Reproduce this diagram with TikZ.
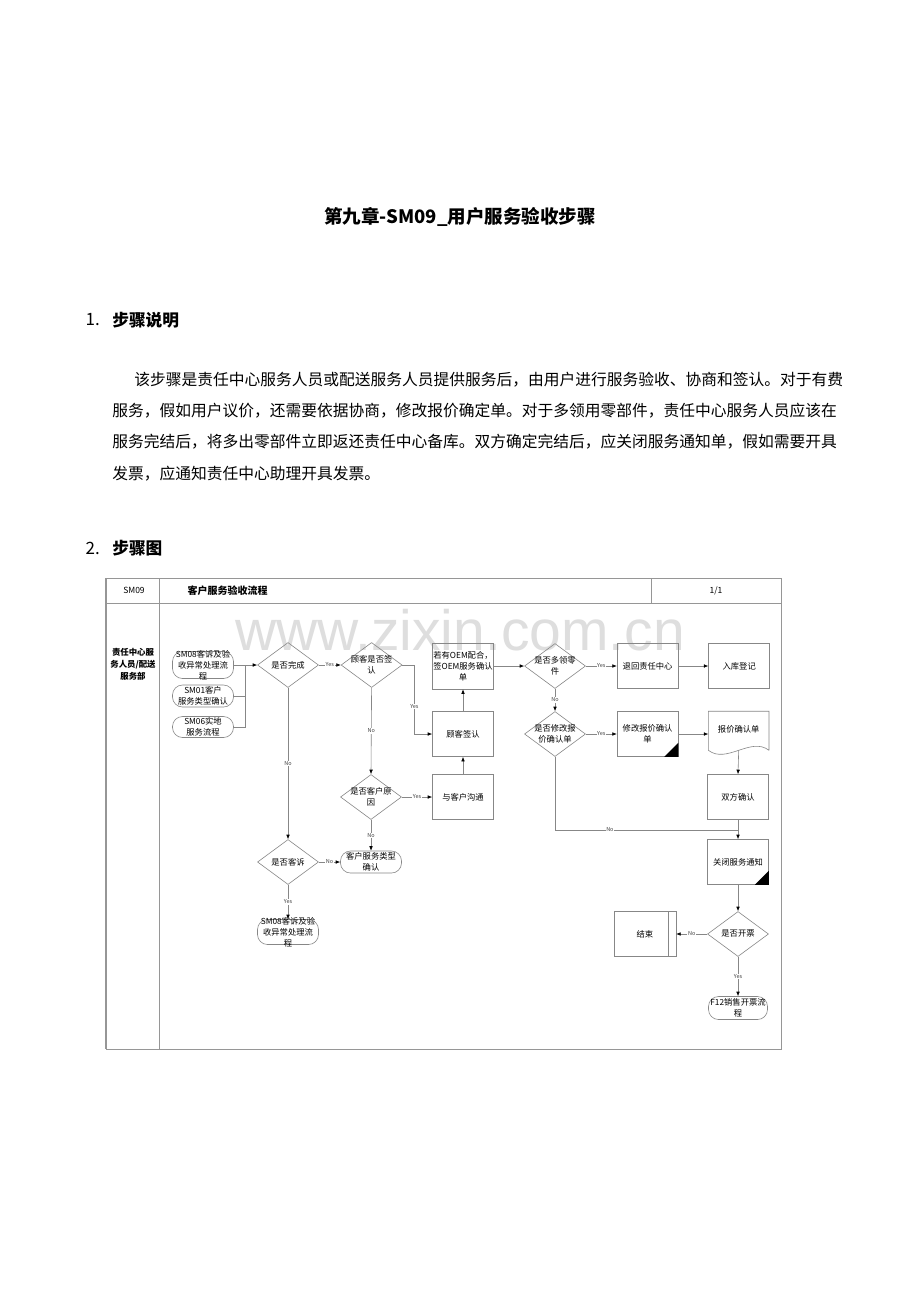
\documentclass[tikz,border=0pt]{standalone}
\usepackage{fontspec}
\setmainfont{Noto Sans CJK SC}
\newfontfamily\wmfont{Liberation Sans}
\usepackage{tikz}
\usetikzlibrary{positioning}
\usetikzlibrary{arrows.meta}
\usetikzlibrary{shapes}
\definecolor{linegray}{RGB}{135,135,135}
\definecolor{framegray}{RGB}{150,150,150}
\definecolor{markgray}{RGB}{222,222,222}
\tikzset{in text/.style={font=\fontsize{8.3}{11}\selectfont, align=center, inner sep=0pt},
  proc node/.style={rectangle, draw=linegray, minimum width=61pt, minimum height=45pt, inner sep=0pt, label={[in text]center:#1}},
  dec node/.style={diamond, draw=linegray, minimum width=61pt, minimum height=45pt, inner sep=0pt, label={[in text]center:#1}},
  term node/.style={rectangle, rounded corners=10pt, draw=linegray, minimum width=61pt, minimum height=23pt, inner sep=0pt, label={[in text]center:#1}},
  doc node/.style={rectangle, minimum width=60pt, minimum height=45pt, inner sep=0pt, label={[in text, yshift=5pt]center:#1}},
  flow/.style={draw=linegray, -{Latex[length=4.5pt,width=3.6pt,color=black]}},
  plain line/.style={draw=linegray},
  yn/.style={fill=white, inner sep=0.6pt, font=\fontsize{5.5}{6}\selectfont, text=black!75},
}

\begin{document}
\begin{tikzpicture}[x=1pt, y=-1pt, node distance=31pt, semithick]
	\fill[white] (0,0) rectangle (920,1301);
	\useasboundingbox (0,0) rectangle (920,1301);

	% text above the chart
	\node[font=\bfseries\fontsize{18.5}{20}\selectfont] (title) at (460,217) {第九章-SM09\_用户服务验收步骤};
	\node[anchor=west, font=\fontsize{17}{18}\selectfont] (n1) at (82,320) {1.};
	\node[anchor=west, inner sep=0pt, font=\bfseries\fontsize{16.7}{18}\selectfont] (h1) at (112,320) {步骤说明};
	\node[anchor=west, inner sep=0pt, font=\fontsize{15.75}{16}\selectfont] (p1) at (134,380)
	  {\XeTeXlinebreaklocale "zh"\XeTeXlinebreakskip=0pt plus 2pt%
	   \hbox to 704pt{该步骤是责任中心服务人员或配送服务人员提供服务后，由用户进行服务验收、协商和签认。对于有费}};
	\node[anchor=west, inner sep=0pt, font=\fontsize{15.75}{16}\selectfont] (p2) at (112,411) {服务，假如用户议价，还需要依据协商，修改报价确定单。对于多领用零部件，责任中心服务人员应该在};
	\node[anchor=west, inner sep=0pt, font=\fontsize{15.75}{16}\selectfont] (p3) at (112,442) {服务完结后，将多出零部件立即返还责任中心备库。双方确定完结后，应关闭服务通知单，假如需要开具};
	\node[anchor=west, inner sep=0pt, font=\fontsize{15.75}{16}\selectfont] (p4) at (112,474) {发票，应通知责任中心助理开具发票。};
	\node[anchor=west, font=\fontsize{17}{18}\selectfont] (n2) at (82,548) {2.};
	\node[anchor=west, inner sep=0pt, font=\bfseries\fontsize{16.7}{18}\selectfont] (h2) at (112,548) {步骤图};

	\node[anchor=base, inner sep=0pt, text depth=0pt, text=markgray, font=\wmfont\fontsize{57}{60}\selectfont] (mark) at (460,650) {www.zixin.com.cn};

	% frame
	\draw[framegray, line width=0.8pt] (106,578) rectangle (781,1049);
	\draw[framegray, line width=1.5pt] (106,578) -- (106,1049);
	\draw[framegray, line width=0.8pt] (106,603) -- (781,603);
	\draw[framegray, line width=0.8pt] (159,578) -- (159,1049);
	\draw[framegray, line width=0.8pt] (651,578) -- (651,603);
	\node[font=\fontsize{8.5}{9}\selectfont] (code) at (134,590.5) {SM09};
	\node[anchor=west, font=\bfseries\fontsize{10}{11}\selectfont] (flowname) at (184,590.5) {客户服务验收流程};
	\node[font=\fontsize{8.5}{9}\selectfont] (page) at (716,590.5) {1/1};
	\node[align=center, font=\bfseries\fontsize{8.4}{12}\selectfont] (lane) at (133,664) {责任中心服\\务人员/配送\\服务部};

	% shapes
	\node[term node={SM08客诉及验\\收异常处理流\\程}, minimum height=27pt] (sm08a) at (203,665) {};
	\node[term node={SM01客户\\服务类型确认}, minimum height=22pt] (sm01) at (203,696) {};
	\node[term node={SM06实地\\服务流程}, minimum height=21pt] (sm06) at (203,727) {};
	\node[dec node={是否完成}] (wc) at (288,665) {};
	\node[dec node={顾客是否签\\认}] (gkqr) [right=22pt of wc] {};
	\node[proc node={若有OEM配合，\\签OEM服务确认\\单}, minimum height=46pt] (oem) at (463,666) {};
	\node[proc node={顾客签认}] (gkqz) at (463,734) {};
	\node[proc node={与客户沟通}] (gt) at (463,797) {};
	\node[dec node={是否客户原\\因}] (khyy) at (371,797) {};
	\node[term node={客户服务类型\\确认}, minimum height=22pt] (khlx) at (371,862) {};
	\node[dec node={是否客诉}] (kesu) at (288,862) {};
	\node[term node={SM08客诉及验\\收异常处理流\\程}, minimum height=25pt] (sm08b) at (288,932) {};
	\node[dec node={是否多领零\\件}] (dlpj) at (555,666) {};
	\node[proc node={退回责任中心}] (thzx) [right=31pt of dlpj] {};
	\node[proc node={入库登记}] (rkdj) [right=30pt of thzx] {};
	\node[dec node={是否修改报\\价确认单}] (sfxg) at (555,734) {};
	\node[proc node={修改报价确认\\单}] (xgqr) [right=31pt of sfxg] {};
	\node[doc node={报价确认单}] (bjd) [right=30pt of xgqr] {};
	\node[proc node={双方确认}] (sfqr) at (738,797) {};
	\node[proc node={关闭服务通知}] (gbtz) at (738,862) {};
	\node[dec node={是否开票}] (sfkp) at (738,934) {};
	\node[proc node={结束}, minimum width=62pt] (js) [left=31pt of sfkp] {};
	\node[term node={F12销售开票流\\程}, minimum width=59pt] (f12) at (738,1008) {};

	% document outline, corner marks
	\draw[linegray] ([yshift=6.5pt]bjd.south east) -- (bjd.north east) -- (bjd.north west) -- ([yshift=6.5pt]bjd.south west)
	  .. controls ([xshift=18pt,yshift=-7.5pt]bjd.south west) and ([xshift=-18pt,yshift=20.5pt]bjd.south east) .. ([yshift=6.5pt]bjd.south east);
	\fill ([yshift=14pt]xgqr.south east) -- (xgqr.south east) -- ([xshift=-14pt]xgqr.south east) -- cycle;
	\fill ([yshift=14pt]gbtz.south east) -- (gbtz.south east) -- ([xshift=-14pt]gbtz.south east) -- cycle;
	\draw[linegray] ([xshift=-8pt]js.north east) -- ([xshift=-8pt]js.south east);

	% connectors
	\coordinate (hb) at (245,665);
	\coordinate (hj) at (738,830);
	\path[plain line] (sm01.east) -| (hb);
	\path[plain line] (sm06.east) -| (hb);
	\path[flow] (sm08a.east) -- (wc.west);
	\path[flow] (wc.east) -- node[yn] {Yes} (gkqr.west);
	\path[flow] (gkqr.east) -- ++(12,0) |- node[yn, pos=0.3] {Yes} (gkqz.west);
	\path[flow] (gkqr.south) -- node[yn] {No} (khyy.north);
	\path[flow] (khyy.east) -- node[yn] {Yes} (gt.west);
	\path[flow] (gt.north) -- (gkqz.south);
	\path[flow] (gkqz.north) -- (oem.south);
	\path[flow] (khyy.south) -- node[yn] {No} (khlx.north);
	\path[flow] (wc.south) -- node[yn] {No} (kesu.north);
	\path[flow] (kesu.east) -- node[yn] {No} (khlx.west);
	\path[flow] (kesu.south) -- node[yn] {Yes} (sm08b.north);
	\path[flow] (oem.east) -- (dlpj.west);
	\path[flow] (dlpj.east) -- node[yn] {Yes} (thzx.west);
	\path[flow] (thzx.east) -- (rkdj.west);
	\path[flow] (dlpj.south) -- node[yn] {No} (sfxg.north);
	\path[flow] (sfxg.east) -- node[yn] {Yes} (xgqr.west);
	\path[flow] (xgqr.east) -- (bjd.west);
	\path[flow] ([yshift=6.5pt]bjd.south) -- (sfqr.north);
	\path[flow] (sfqr.south) -- (gbtz.north);
	\path[plain line] (sfxg.south) |- node[yn, pos=0.65] {No} (hj);
	\path[flow] (gbtz.south) -- (sfkp.north);
	\path[flow] (sfkp.west) -- node[yn] {No} (js.east);
	\path[flow] (sfkp.south) -- node[yn] {Yes} (f12.north);
\end{tikzpicture}
\end{document}
